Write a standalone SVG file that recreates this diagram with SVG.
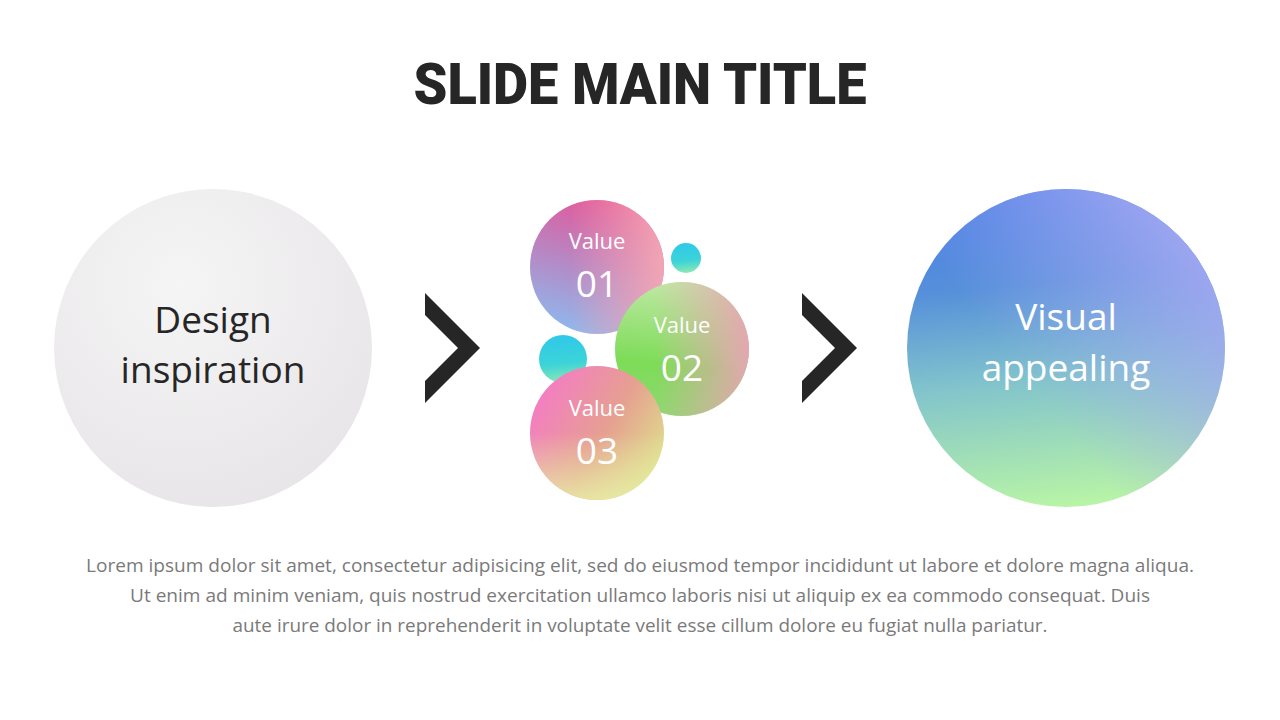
<svg xmlns="http://www.w3.org/2000/svg" width="1280" height="720" viewBox="0 0 1280 720">
<style>
.title{font-family:Roboto,"Liberation Sans",sans-serif;font-weight:900;font-size:57px;fill:#262626}
.big{font-family:"Open Sans","Noto Sans",sans-serif;font-size:37px;text-anchor:middle}
.val{font-family:"Open Sans","Noto Sans",sans-serif;font-size:22px;fill:#fff;text-anchor:middle}
.num{font-family:"Open Sans","Noto Sans",sans-serif;font-size:37px;fill:#fff;text-anchor:middle}
.body{font-family:"Open Sans","Noto Sans",sans-serif;font-size:19px;fill:#7a7a7a;text-anchor:middle}
.chev{fill:#262626}
</style>
<defs>
<radialGradient id="gGrey" cx="0.4" cy="0.3" r="0.8">
<stop offset="0" stop-color="#f6f5f6"/><stop offset="1" stop-color="#e6e4e6"/>
</radialGradient>
<linearGradient id="gBlueA" x1="0.35" y1="0" x2="0.45" y2="1">
<stop offset="0" stop-color="#4a7ee6"/><stop offset="0.3" stop-color="#5690da"/><stop offset="0.6" stop-color="#82c4cc"/><stop offset="1" stop-color="#b8f4a6"/>
</linearGradient>
<linearGradient id="gBlueB" x1="0.1" y1="0.9" x2="1" y2="0.2">
<stop offset="0.35" stop-color="#a4a8f2" stop-opacity="0"/><stop offset="1" stop-color="#a4a8f2" stop-opacity="1"/>
</linearGradient>
<linearGradient id="g1a" x1="0.5" y1="0" x2="0.2" y2="1">
<stop offset="0" stop-color="#e2589a"/><stop offset="0.5" stop-color="#b48ac6"/><stop offset="1" stop-color="#8cbcf0"/>
</linearGradient>
<linearGradient id="g1b" x1="0" y1="0.5" x2="1" y2="0.5">
<stop offset="0.3" stop-color="#f4a6b4" stop-opacity="0"/><stop offset="1" stop-color="#f4a8b4" stop-opacity="0.95"/>
</linearGradient>
<linearGradient id="g2a" x1="0.3" y1="0" x2="0.2" y2="1">
<stop offset="0" stop-color="#bfe8a4"/><stop offset="0.6" stop-color="#7ddc58"/><stop offset="1" stop-color="#8fd870"/>
</linearGradient>
<linearGradient id="g2b" x1="0" y1="0.5" x2="1" y2="0.5">
<stop offset="0.3" stop-color="#e8a8b0" stop-opacity="0"/><stop offset="1" stop-color="#e8a4b4" stop-opacity="0.95"/>
</linearGradient>
<linearGradient id="g3a" x1="0" y1="0.3" x2="1" y2="0.9">
<stop offset="0" stop-color="#f47cc4"/><stop offset="0.5" stop-color="#e6a090"/><stop offset="1" stop-color="#dcec8c"/>
</linearGradient>
<linearGradient id="g3b" x1="0.5" y1="1" x2="0.5" y2="0.5">
<stop offset="0" stop-color="#e8f0a8" stop-opacity="0.8"/><stop offset="1" stop-color="#e8f0a8" stop-opacity="0"/>
</linearGradient>
<linearGradient id="gCyan" x1="0.4" y1="0" x2="0.5" y2="1">
<stop offset="0" stop-color="#2fc8ea"/><stop offset="0.6" stop-color="#3cd4d8"/><stop offset="1" stop-color="#8ee8b4"/>
</linearGradient>
</defs>
<rect width="1280" height="720" fill="#fff"/>
<text class="title" x="640" y="104" text-anchor="middle" textLength="453" lengthAdjust="spacingAndGlyphs">SLIDE MAIN TITLE</text>

<g id="node-design">
<circle cx="213" cy="348" r="159" fill="url(#gGrey)"/>
<text class="big" x="213" y="333" fill="#262626">Design</text>
<text class="big" x="213" y="383" fill="#262626">inspiration</text>
</g>

<g id="node-values">
<circle cx="686" cy="258" r="15" fill="url(#gCyan)"/>
<circle cx="563" cy="359" r="24" fill="url(#gCyan)"/>
<g id="value-01">
<circle cx="597" cy="267" r="67" fill="url(#g1a)"/>
<circle cx="597" cy="267" r="67" fill="url(#g1b)"/>
<text class="val" x="597" y="249">Value</text>
<text class="num" x="597" y="297">01</text>
</g>
<g id="value-02">
<circle cx="682" cy="349" r="67" fill="url(#g2a)"/>
<circle cx="682" cy="349" r="67" fill="url(#g2b)"/>
<text class="val" x="682" y="333">Value</text>
<text class="num" x="682" y="381">02</text>
</g>
<g id="value-03">
<circle cx="597" cy="433" r="67" fill="url(#g3a)"/>
<circle cx="597" cy="433" r="67" fill="url(#g3b)"/>
<text class="val" x="597" y="416">Value</text>
<text class="num" x="597" y="464">03</text>
</g>
</g>

<g id="node-visual">
<circle cx="1066" cy="348" r="159" fill="url(#gBlueA)"/>
<circle cx="1066" cy="348" r="159" fill="url(#gBlueB)"/>
<text class="big" x="1066" y="330" fill="#fff">Visual</text>
<text class="big" x="1066" y="381" fill="#fff">appealing</text>
</g>

<g id="connectors">
<polygon class="chev" points="425,293 480,348 425,403 425,381 458,348 425,315"/>
<polygon class="chev" points="802,293 857,348 802,403 802,381 835,348 802,315"/>
</g>

<text class="body" x="640" y="572" textLength="1108" lengthAdjust="spacingAndGlyphs">Lorem ipsum dolor sit amet, consectetur  adipisicing  elit, sed do eiusmod  tempor  incididunt  ut labore  et dolore  magna aliqua.</text>
<text class="body" x="640" y="602" textLength="1020" lengthAdjust="spacingAndGlyphs">Ut enim ad minim  veniam,  quis nostrud  exercitation  ullamco  laboris  nisi ut aliquip  ex ea commodo  consequat.  Duis</text>
<text class="body" x="640" y="632" textLength="815" lengthAdjust="spacingAndGlyphs">aute irure  dolor  in reprehenderit  in voluptate  velit esse cillum  dolore  eu fugiat  nulla  pariatur.</text>
</svg>
